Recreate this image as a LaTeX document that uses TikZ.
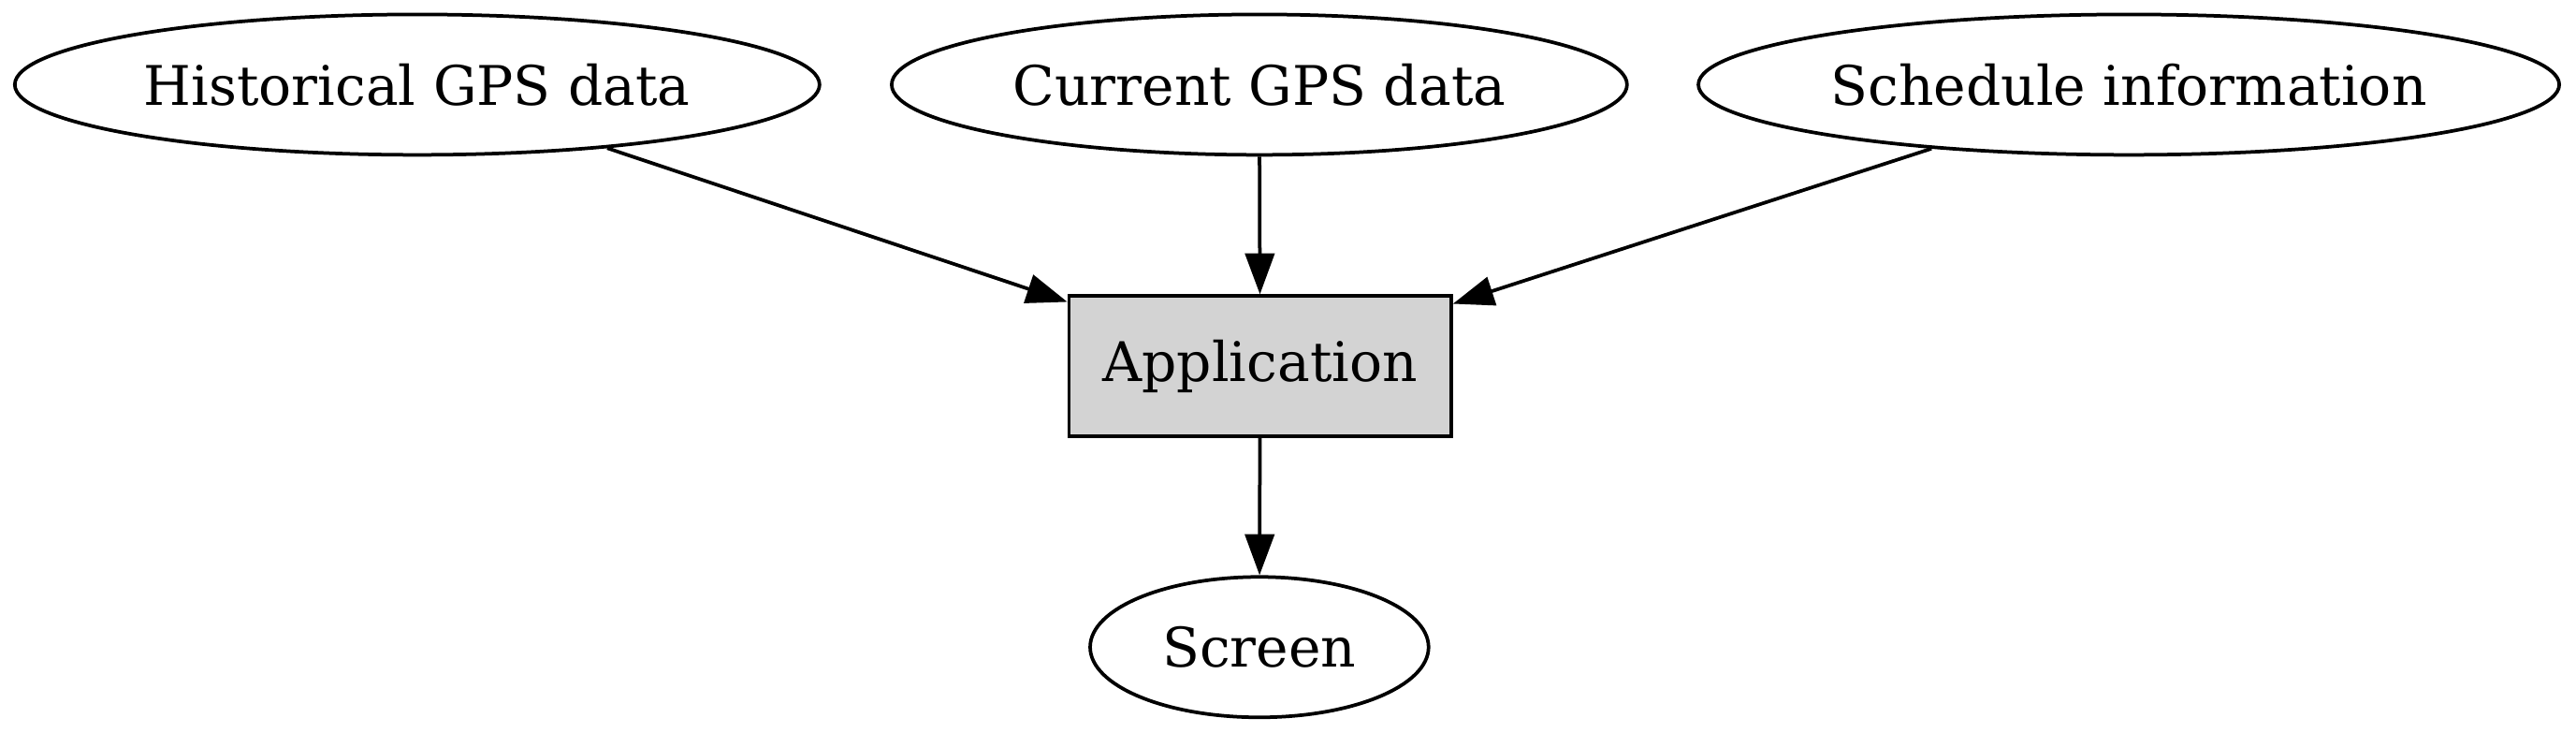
\documentclass[tikz,border=0pt]{standalone}
\usepackage{fontspec}
\setmainfont{DejaVu Serif}
\usetikzlibrary{shapes.geometric,arrows.meta}

\definecolor{appgray}{HTML}{D3D3D3}

\begin{document}
\begin{tikzpicture}[x=1pt,y=1pt,line width=0.9pt,
        >={Triangle[length=10.5pt,width=7.5pt]},
        source/.style={draw,ellipse,inner sep=0pt,minimum height=36pt,font=\fontsize{14}{16}\selectfont},
        appbox/.style={draw,rectangle,fill=appgray,inner sep=0pt,minimum width=98pt,minimum height=36pt,font=\fontsize{14}{16}\selectfont}]
                \useasboundingbox (0,0) rectangle (660.7,187.9);

                % data sources
                \node[source,minimum width=206.4pt] (hist) at(107.0,166.2) {Historical GPS data};
                \node[source,minimum width=188.6pt] (curr) at(323.0,166.2) {Current GPS data};
                \node[source,minimum width=220.8pt] (sched) at(546.0,166.2) {Schedule information};

                \node[appbox] (app) at(323.2,94.0) {Application};

                \node[source,minimum width=86.8pt] (screen) at(323.0,22.0) {Screen};

                \draw[->] (hist)--(app);
                \draw[->] (curr)--(app);
                \draw[->] (sched)--(app);
                \draw[->] (app)--(screen);
            \end{tikzpicture}
\end{document}
